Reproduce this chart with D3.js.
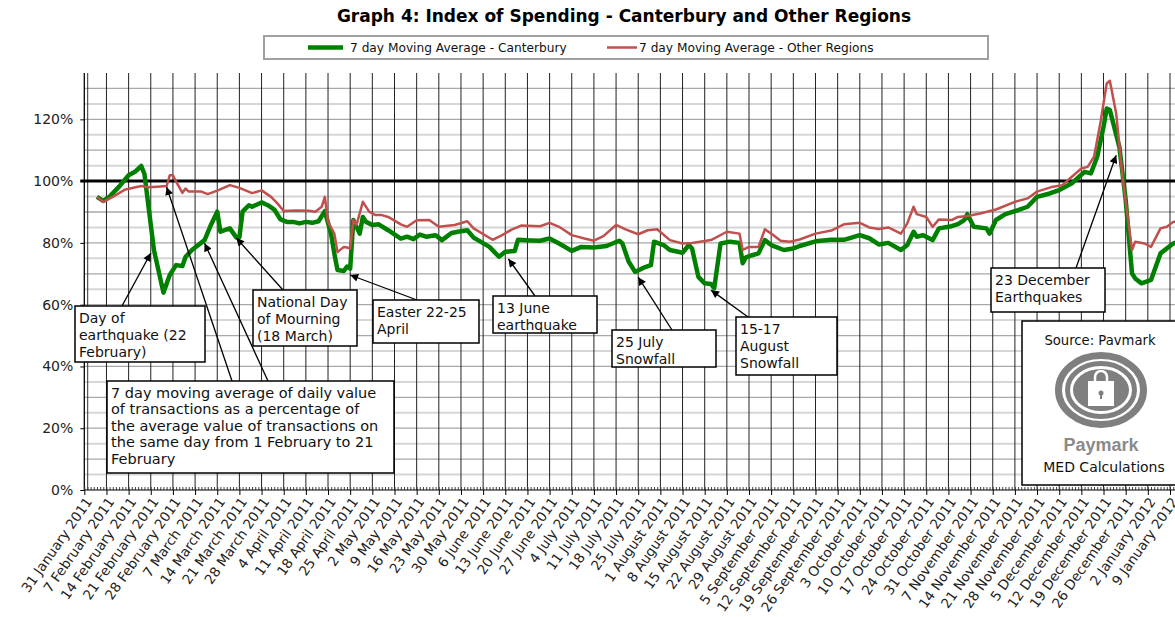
<!DOCTYPE html>
<html>
<head>
<meta charset="utf-8">
<script src="https://cdn.jsdelivr.net/npm/d3@7"></script>
<style>
  body { margin: 0; background: #fff; }
  svg { display: block; font-family: "DejaVu Sans", sans-serif; }
</style>
</head>
<body>
<svg id="chart" width="1175" height="617"></svg>
<script>
// 7 day moving average, % of 1-21 February average
var canterbury = [
  ["2011-02-04",94.9],["2011-02-06",93.6],["2011-02-08",95.0],["2011-02-11",98.2],["2011-02-14",101.9],
  ["2011-02-16",103.0],["2011-02-18",104.9],["2011-02-19",102.3],["2011-02-22",77.7],["2011-02-25",63.9],
  ["2011-02-27",69.6],["2011-03-01",72.8],["2011-03-03",72.5],["2011-03-04",75.5],["2011-03-06",77.7],
  ["2011-03-10",80.9],["2011-03-12",85.8],["2011-03-14",90.1],["2011-03-15",83.6],["2011-03-17",84.4],
  ["2011-03-18",84.7],["2011-03-20",81.8],["2011-03-21",81.8],["2011-03-22",90.1],["2011-03-24",92.2],
  ["2011-03-25",91.7],["2011-03-28",93.1],["2011-03-30",92.2],["2011-04-01",90.8],["2011-04-03",87.6],
  ["2011-04-05",86.8],["2011-04-07",86.8],["2011-04-09",86.3],["2011-04-11",86.8],["2011-04-13",86.5],
  ["2011-04-15",87.0],["2011-04-17",90.3],["2011-04-18",86.5],["2011-04-19",82.7],["2011-04-20",76.5],
  ["2011-04-21",71.2],["2011-04-23",70.9],["2011-04-24",72.3],["2011-04-25",71.7],["2011-04-26",87.4],
  ["2011-04-28",83.0],["2011-04-29",88.4],["2011-04-30",86.8],["2011-05-02",85.8],["2011-05-04",86.0],
  ["2011-05-07",84.1],["2011-05-11",81.4],["2011-05-13",82.0],["2011-05-15",81.2],["2011-05-17",82.7],
  ["2011-05-19",82.0],["2011-05-22",82.5],["2011-05-24",80.9],["2011-05-27",83.2],["2011-05-29",83.6],
  ["2011-06-01",84.1],["2011-06-03",81.7],["2011-06-08",78.7],["2011-06-11",75.5],["2011-06-13",77.1],
  ["2011-06-16",77.4],["2011-06-17",81.0],["2011-06-21",80.8],["2011-06-24",80.7],["2011-06-27",81.4],
  ["2011-06-30",79.8],["2011-07-04",77.4],["2011-07-07",78.7],["2011-07-11",78.5],["2011-07-15",79.0],
  ["2011-07-19",80.7],["2011-07-20",79.8],["2011-07-22",73.9],["2011-07-24",70.6],["2011-07-27",72.1],
  ["2011-07-29",72.8],["2011-07-30",80.4],["2011-08-02",79.3],["2011-08-04",77.7],["2011-08-08",76.8],
  ["2011-08-10",79.3],["2011-08-11",78.2],["2011-08-13",69.0],["2011-08-15",66.9],["2011-08-17",66.7],
  ["2011-08-18",65.3],["2011-08-20",79.8],["2011-08-23",80.4],["2011-08-26",80.0],["2011-08-27",73.4],
  ["2011-08-28",75.3],["2011-08-30",76.0],["2011-09-01",76.6],["2011-09-03",80.9],["2011-09-05",79.3],
  ["2011-09-09",77.7],["2011-09-12",78.2],["2011-09-14",79.0],["2011-09-19",80.5],["2011-09-24",81.0],
  ["2011-09-28",81.0],["2011-10-03",82.5],["2011-10-06",81.5],["2011-10-09",79.5],["2011-10-12",80.0],
  ["2011-10-16",77.7],["2011-10-18",79.3],["2011-10-20",83.6],["2011-10-21",82.0],["2011-10-23",82.5],
  ["2011-10-26",80.9],["2011-10-28",84.7],["2011-11-01",85.4],["2011-11-03",86.1],["2011-11-05",87.4],
  ["2011-11-06",89.3],["2011-11-08",85.2],["2011-11-12",84.7],["2011-11-13",83.0],["2011-11-15",87.4],
  ["2011-11-18",89.3],["2011-11-22",90.6],["2011-11-25",91.7],["2011-11-28",94.9],["2011-12-02",96.0],
  ["2011-12-05",97.1],["2011-12-09",99.3],["2011-12-13",103.0],["2011-12-15",102.5],["2011-12-17",107.9],
  ["2011-12-19",117.6],["2011-12-20",123.5],["2011-12-21",123.0],["2011-12-24",111.1],["2011-12-26",93.9],
  ["2011-12-28",70.1],["2011-12-29",68.5],["2011-12-31",66.9],["2012-01-03",68.0],["2012-01-06",76.6],
  ["2012-01-10",79.8],["2012-01-12",80.5]
];

var otherRegions = [
  ["2011-02-04",94.9],["2011-02-06",93.3],["2011-02-09",94.9],["2011-02-13",97.3],["2011-02-18",98.4],
  ["2011-02-20",98.0],["2011-02-23",98.2],["2011-02-26",98.4],["2011-02-27",101.9],["2011-02-28",101.9],
  ["2011-03-01",99.8],["2011-03-03",96.2],["2011-03-04",97.6],["2011-03-05",96.6],["2011-03-09",96.6],
  ["2011-03-11",95.8],["2011-03-14",96.9],["2011-03-18",98.7],["2011-03-21",97.8],["2011-03-25",96.1],
  ["2011-03-28",97.0],["2011-03-31",94.9],["2011-04-02",92.8],["2011-04-04",90.3],["2011-04-08",90.5],
  ["2011-04-12",90.4],["2011-04-14",90.1],["2011-04-16",91.7],["2011-04-17",94.9],["2011-04-18",86.8],
  ["2011-04-20",83.0],["2011-04-21",77.0],["2011-04-23",78.7],["2011-04-24",78.5],["2011-04-25",78.2],
  ["2011-04-26",87.4],["2011-04-27",85.8],["2011-04-29",93.3],["2011-05-01",90.1],["2011-05-03",89.0],
  ["2011-05-05",89.0],["2011-05-07",88.4],["2011-05-11",86.0],["2011-05-13",85.2],["2011-05-16",87.3],
  ["2011-05-20",87.4],["2011-05-23",85.2],["2011-05-28",85.8],["2011-06-01",87.0],["2011-06-03",84.7],
  ["2011-06-09",81.0],["2011-06-12",82.5],["2011-06-15",84.3],["2011-06-18",85.6],["2011-06-24",85.4],
  ["2011-06-27",86.5],["2011-06-30",85.2],["2011-07-04",82.5],["2011-07-08",81.4],["2011-07-11",80.7],
  ["2011-07-14",82.2],["2011-07-18",85.8],["2011-07-21",84.4],["2011-07-25",82.8],["2011-07-28",84.1],
  ["2011-07-31",84.4],["2011-08-04",80.9],["2011-08-08",79.8],["2011-08-11",80.0],["2011-08-17",80.9],
  ["2011-08-22",83.6],["2011-08-26",83.0],["2011-08-27",77.7],["2011-08-29",78.7],["2011-09-01",78.7],
  ["2011-09-03",84.4],["2011-09-05",83.0],["2011-09-08",80.7],["2011-09-11",80.4],["2011-09-14",81.1],
  ["2011-09-19",83.0],["2011-09-24",84.0],["2011-09-28",86.0],["2011-10-03",86.5],["2011-10-06",85.0],
  ["2011-10-09",84.5],["2011-10-12",85.0],["2011-10-16",83.0],["2011-10-18",86.3],["2011-10-20",91.7],
  ["2011-10-21",89.3],["2011-10-24",88.4],["2011-10-26",85.2],["2011-10-28",87.6],["2011-11-01",87.4],
  ["2011-11-03",88.4],["2011-11-06",88.7],["2011-11-10",89.5],["2011-11-15",90.8],["2011-11-21",93.3],
  ["2011-11-25",94.4],["2011-11-28",96.6],["2011-12-03",98.2],["2011-12-06",98.7],["2011-12-09",101.4],
  ["2011-12-12",104.1],["2011-12-14",104.6],["2011-12-16",107.9],["2011-12-18",118.7],["2011-12-20",131.6],
  ["2011-12-21",132.5],["2011-12-23",121.9],["2011-12-25",101.4],["2011-12-28",77.7],["2011-12-29",80.4],
  ["2012-01-01",79.8],["2012-01-03",78.7],["2012-01-06",84.7],["2012-01-08",85.2],["2012-01-10",86.8],
  ["2012-01-12",87.0]
];

var seriesNames = ["7 day Moving Average - Canterbury", "7 day Moving Average - Other Regions"];
var yTicks = [0, 20, 40, 60, 80, 100, 120];

// annotation texts and the point each arrow points at
var notes = [
  {lines: ["Day of", "earthquake (22", "February)"], targets: [["2011-02-21", 76.7]]},
  {lines: ["National Day", "of Mourning", "(18 March)"], targets: [["2011-03-20", 81.6]]},
  {lines: ["Easter 22-25", "April"], targets: [["2011-04-25", 69.6]]},
  {lines: ["13 June", "earthquake"], targets: [["2011-06-14", 74.8]]},
  {lines: ["25 July", "Snowfall"], targets: [["2011-07-25", 68.9]]},
  {lines: ["15-17", "August", "Snowfall"], targets: [["2011-08-17", 64.7]]},
  {lines: ["23 December", "Earthquakes"], targets: [["2011-12-23", 108.4]]},
  {lines: ["7 day moving average of daily value", "of transactions as a percentage of",
           "the average value of transactions on", "the same day from 1 February to 21", "February"],
   targets: [["2011-02-26", 98.1], ["2011-03-10", 79.9]]}
];

// box layout for each note (pixels)
var noteBoxes = [
  {x: 75,  y: 306, w: 130, h: 56, from: [[122, 306]]},
  {x: 253, y: 290, w: 104, h: 56, from: [[283, 290]]},
  {x: 373, y: 300, w: 106, h: 43, from: [[417, 300]]},
  {x: 493, y: 296, w: 104, h: 37, from: [[535, 296]]},
  {x: 612, y: 330, w: 104, h: 37, from: [[672, 330]]},
  {x: 736, y: 317, w: 101, h: 58, from: [[748, 317]]},
  {x: 991, y: 268, w: 114, h: 44, from: [[1076, 268]]},
  {x: 107, y: 381, w: 287, h: 92, from: [[232, 381], [268, 381]], lh: 16.5, fs: 14.5}
];

var W = 1175, H = 617;
var plotTop = 73, plotBottom = 490, plotLeft = 84.3;
var parse = d3.utcParse("%Y-%m-%d");

var svg = d3.select("#chart");
svg.append("rect").attr("width", W).attr("height", H).attr("fill", "#fff");

var x = d3.scaleUtc()
  .domain([parse("2011-01-31"), parse("2012-01-09")])
  .range([plotLeft, 1170]);
var y = d3.scaleLinear().domain([0, 135]).range([plotBottom, plotTop]);

// horizontal grid every 5%
svg.append("g").selectAll("line")
  .data(d3.range(5, 135, 5))
  .join("line")
  .attr("x1", plotLeft).attr("x2", W)
  .attr("y1", d => y(d)).attr("y2", d => y(d))
  .attr("stroke", d => d % 10 === 0 ? "#a8a8a8" : "#d6d6d6")
  .attr("stroke-width", d => d % 10 === 0 ? 1.3 : 2);

// weekly vertical grid
var weeks = d3.utcMonday.range(parse("2011-01-31"), x.invert(W + 1));
svg.append("g").selectAll("line")
  .data(weeks)
  .join("line")
  .attr("x1", d => x(d)).attr("x2", d => x(d))
  .attr("y1", plotTop).attr("y2", plotBottom)
  .attr("stroke", "#222").attr("stroke-width", 1);

svg.append("line")
  .attr("x1", plotLeft + 3.4).attr("x2", plotLeft + 3.4)
  .attr("y1", plotTop).attr("y2", plotBottom)
  .attr("stroke", "#333").attr("stroke-width", 1);

// y axis
var yAxis = svg.append("g")
  .attr("transform", "translate(" + plotLeft + ",0)")
  .call(d3.axisLeft(y).tickValues(yTicks).tickFormat(d => d + "%").tickSize(4).tickPadding(7));
yAxis.select(".domain").attr("d", "M0," + plotTop + "V" + plotBottom).attr("stroke", "#000");
yAxis.selectAll("text").attr("font-size", 14).attr("font-family", "DejaVu Sans").attr("fill", "#222");

// x axis: daily minor ticks up, weekly ticks down
svg.append("g")
  .attr("transform", "translate(0," + plotBottom + ")")
  .call(d3.axisBottom(x).tickValues(d3.utcDay.range(parse("2011-01-31"), x.invert(W + 1))).tickSize(-3).tickFormat(""))
  .call(g => g.select(".domain").remove())
  .selectAll("line").attr("stroke", "#444");

var xAxis = svg.append("g")
  .attr("transform", "translate(0," + plotBottom + ")")
  .call(d3.axisBottom(x).tickValues(weeks).tickSize(5).tickFormat(d3.utcFormat("%-d %B %Y")));
xAxis.select(".domain").attr("d", "M" + plotLeft + ",0H" + W).attr("stroke", "#000");
xAxis.selectAll("text")
  .attr("font-size", 13.6).attr("font-family", "DejaVu Sans").attr("fill", "#222")
  .attr("text-anchor", "end")
  .attr("y", 0).attr("dy", "0.35em")
  .attr("transform", "translate(4,9) rotate(-55)");

// 100% reference line
svg.append("line")
  .attr("x1", plotLeft - 4).attr("x2", W)
  .attr("y1", y(100)).attr("y2", y(100))
  .attr("stroke", "#000").attr("stroke-width", 3);

// series
svg.append("clipPath").attr("id", "plot")
  .append("rect").attr("x", plotLeft).attr("y", 0).attr("width", W - plotLeft).attr("height", plotBottom);

var line = d3.line()
  .x(d => x(parse(d[0])))
  .y(d => y(d[1]));

var lines = svg.append("g").attr("clip-path", "url(#plot)");
lines.append("path").datum(canterbury)
  .attr("d", line).attr("fill", "none")
  .attr("stroke", "#008000").attr("stroke-width", 4.5)
  .attr("stroke-linejoin", "round");
lines.append("path").datum(otherRegions)
  .attr("d", line).attr("fill", "none")
  .attr("stroke", "#c0504d").attr("stroke-width", 2.5)
  .attr("stroke-linejoin", "round");

// title
svg.append("text")
  .attr("x", 624).attr("y", 22)
  .attr("text-anchor", "middle")
  .attr("font-weight", "bold").attr("font-size", 17)
  .text("Graph 4: Index of Spending - Canterbury and Other Regions");

// legend
var legend = svg.append("g");
legend.append("rect")
  .attr("x", 264).attr("y", 36).attr("width", 724).attr("height", 23)
  .attr("fill", "#fff").attr("stroke", "#a0a0a0").attr("stroke-width", 2);
var legendItems = [
  {x1: 308, x2: 343, tx: 350, color: "#008000", w: 4.5},
  {x1: 607, x2: 637, tx: 639, color: "#c0504d", w: 2.5}
];
legendItems.forEach(function (d, i) {
  legend.append("line")
    .attr("x1", d.x1).attr("x2", d.x2).attr("y1", 47.5).attr("y2", 47.5)
    .attr("stroke", d.color).attr("stroke-width", d.w);
  legend.append("text")
    .attr("x", d.tx).attr("y", 52)
    .attr("font-size", 12.2).attr("fill", "#111")
    .text(seriesNames[i]);
});

// arrow head
svg.append("defs").append("marker")
  .attr("id", "arrow")
  .attr("viewBox", "0 0 10 10")
  .attr("refX", 10).attr("refY", 5)
  .attr("markerWidth", 9).attr("markerHeight", 8)
  .attr("markerUnits", "userSpaceOnUse")
  .attr("orient", "auto")
  .append("path").attr("d", "M0,0L10,5L0,10z").attr("fill", "#000");

// annotations
var notesG = svg.append("g");
notes.forEach(function (n, i) {
  var b = noteBoxes[i];
  n.targets.forEach(function (t, j) {
    notesG.append("line")
      .attr("x1", b.from[j][0]).attr("y1", b.from[j][1])
      .attr("x2", x(parse(t[0]))).attr("y2", y(t[1]))
      .attr("stroke", "#000").attr("stroke-width", 1.3)
      .attr("marker-end", "url(#arrow)");
  });
  notesG.append("rect")
    .attr("x", b.x).attr("y", b.y).attr("width", b.w).attr("height", b.h)
    .attr("fill", "#fff").attr("stroke", "#000").attr("stroke-width", 1.5);
  var lh = b.lh || 17, fs = b.fs || 14;
  notesG.append("g").selectAll("text")
    .data(n.lines)
    .join("text")
    .attr("x", b.x + 4)
    .attr("y", (d, k) => b.y + 16.5 + k * lh)
    .attr("font-size", fs).attr("fill", "#111")
    .text(d => d);
});

// source box with logo
var src = svg.append("g");
src.append("rect")
  .attr("x", 1022).attr("y", 321).attr("width", 160).attr("height", 164)
  .attr("fill", "#fff").attr("stroke", "#000").attr("stroke-width", 1.5);
src.append("text").attr("x", 1100).attr("y", 345).attr("text-anchor", "middle")
  .attr("font-size", 13.2).attr("fill", "#111").text("Source: Pavmark");
var logo = src.append("g").attr("transform", "translate(1101,390)");
logo.append("ellipse").attr("rx", 42.5).attr("ry", 34.5)
  .attr("fill", "none").attr("stroke", "#7f7f7f").attr("stroke-width", 7);
logo.append("ellipse").attr("rx", 33.5).attr("ry", 26.5)
  .attr("fill", "none").attr("stroke", "#7f7f7f").attr("stroke-width", 5);
logo.append("ellipse").attr("rx", 28).attr("ry", 21)
  .attr("fill", "#7f7f7f");
logo.append("path").attr("d", "M-6,-9V-13A6,6 0 0 1 6,-13V-9")
  .attr("fill", "none").attr("stroke", "#fff").attr("stroke-width", 2.5);
logo.append("rect").attr("x", -13).attr("y", -9).attr("width", 26).attr("height", 25).attr("fill", "#fff");
logo.append("circle").attr("cx", 0).attr("cy", 3).attr("r", 2.5).attr("fill", "#7f7f7f");
logo.append("rect").attr("x", -1).attr("y", 3).attr("width", 2).attr("height", 6).attr("fill", "#7f7f7f");
src.append("text").attr("x", 1101).attr("y", 451).attr("text-anchor", "middle")
  .attr("font-family", "Liberation Sans").attr("font-weight", "bold")
  .attr("font-size", 18).attr("fill", "#8a8a8a").text("Paymark");
src.append("text").attr("x", 1104).attr("y", 472).attr("text-anchor", "middle")
  .attr("font-size", 14).attr("fill", "#111").text("MED Calculations");
</script>
</body>
</html>
